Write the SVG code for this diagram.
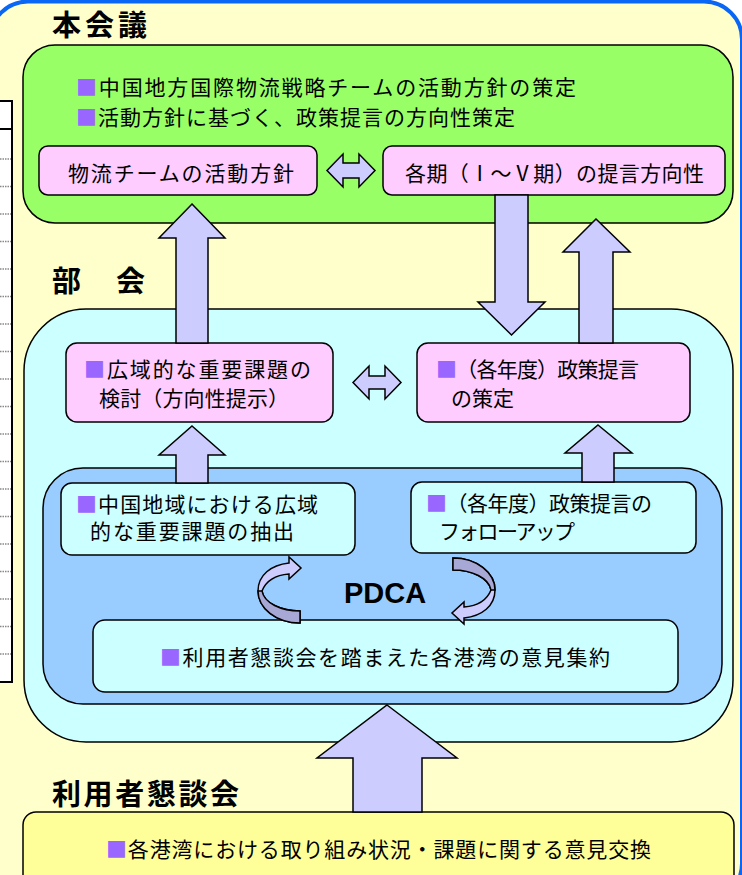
<svg xmlns="http://www.w3.org/2000/svg" width="742" height="875" viewBox="0 0 742 875">
<style>
.bx{stroke:#000;stroke-width:1.5}
.pink{fill:#FFCCFF}
.wb{fill:#CCFFFF}
.arrow{fill:#CCCCFF;stroke:#000;stroke-width:1.5}
.t{font-family:"Noto Sans CJK JP","Noto Sans CJK SC",sans-serif;font-size:21px;fill:#000}
.h{font-family:"Noto Sans CJK JP","Noto Sans CJK SC",sans-serif;font-size:29px;font-weight:bold;fill:#000}
.sq{fill:#9966FF}
.dot{stroke:#888;stroke-width:1.5;stroke-dasharray:1.5 1}
</style>
<rect x="0" y="0" width="742" height="875" fill="#FFFFFF"/>
<rect x="-10" y="1.5" width="752" height="900" rx="38" fill="#FFFFCC" stroke="#0A66F5" stroke-width="4"/>

<g id="side-table">
<rect x="-4" y="101" width="16" height="581" fill="#FFFFFF" stroke="#000" stroke-width="2"/>
<line x1="-4" y1="129" x2="12" y2="129" stroke="#000" stroke-width="2"/>
<g class="dot">
<line x1="0" y1="159" x2="11" y2="159"/><line x1="0" y1="186.5" x2="11" y2="186.5"/><line x1="0" y1="214" x2="11" y2="214"/><line x1="0" y1="241.5" x2="11" y2="241.5"/><line x1="0" y1="269" x2="11" y2="269"/><line x1="0" y1="296.5" x2="11" y2="296.5"/><line x1="0" y1="324" x2="11" y2="324"/><line x1="0" y1="351.5" x2="11" y2="351.5"/><line x1="0" y1="379" x2="11" y2="379"/><line x1="0" y1="406.5" x2="11" y2="406.5"/><line x1="0" y1="434" x2="11" y2="434"/><line x1="0" y1="461.5" x2="11" y2="461.5"/><line x1="0" y1="489" x2="11" y2="489"/><line x1="0" y1="516.5" x2="11" y2="516.5"/><line x1="0" y1="544" x2="11" y2="544"/><line x1="0" y1="571.5" x2="11" y2="571.5"/><line x1="0" y1="599" x2="11" y2="599"/><line x1="0" y1="626.5" x2="11" y2="626.5"/><line x1="0" y1="654" x2="11" y2="654"/>
</g>
</g>

<g id="honkaigi">
<text class="h" x="52" y="36" textLength="95" lengthAdjust="spacing">本会議</text>
<rect class="bx" x="23" y="45" width="710" height="178" rx="32" fill="#99FF66"/>
<text class="t" x="76" y="95" textLength="500" lengthAdjust="spacing"><tspan class="sq">■</tspan>中国地方国際物流戦略チームの活動方針の策定</text>
<text class="t" x="76" y="125" textLength="439" lengthAdjust="spacing"><tspan class="sq">■</tspan>活動方針に基づく、政策提言の方向性策定</text>
</g>
<g id="node-katsudo">
<rect class="bx pink" x="39" y="146" width="278" height="49" rx="9"/>
<text class="t" x="68" y="181" textLength="226" lengthAdjust="spacing">物流チームの活動方針</text>
</g>
<g id="node-teigen-hokosei">
<rect class="bx pink" x="383" y="146" width="342" height="49" rx="9"/>
<text class="t" x="405" y="181" textLength="299" lengthAdjust="spacing">各期（Ⅰ～Ⅴ期）の提言方向性</text>
</g>

<g id="bukai">
<text class="h" x="52" y="292" textLength="93" lengthAdjust="spacing">部　会</text>
<rect class="bx" x="24" y="309" width="709" height="433" rx="62" fill="#CCFFFF"/>
</g>
<g id="node-kento">
<rect class="bx pink" x="66" y="343" width="267" height="79" rx="11"/>
<text class="t" x="84" y="377" textLength="227" lengthAdjust="spacing"><tspan class="sq">■</tspan>広域的な重要課題の</text>
<text class="t" x="99" y="406" textLength="190" lengthAdjust="spacing">検討（方向性提示）</text>
</g>
<g id="node-sakutei">
<rect class="bx pink" x="417" y="343" width="273" height="79" rx="11"/>
<text class="t" x="436" y="377" textLength="203" lengthAdjust="spacing"><tspan class="sq">■</tspan>（各年度）政策提言</text>
<text class="t" x="451" y="406">の策定</text>
</g>

<g id="pdca-area">
<rect class="bx" x="43" y="468" width="679" height="236" rx="40" fill="#99CCFF"/>
<text x="385" y="603" text-anchor="middle" font-family="Liberation Sans, Arial, sans-serif" font-weight="bold" font-size="29">PDCA</text>
</g>
<g id="node-chushutsu">
<rect class="bx wb" x="61" y="483" width="294" height="72" rx="11"/>
<text class="t" x="76" y="512" textLength="242" lengthAdjust="spacing"><tspan class="sq">■</tspan>中国地域における広域</text>
<text class="t" x="90" y="539" textLength="204" lengthAdjust="spacing">的な重要課題の抽出</text>
</g>
<g id="node-followup">
<rect class="bx wb" x="411" y="482" width="285" height="71" rx="11"/>
<text class="t" x="426" y="511" textLength="226" lengthAdjust="spacing"><tspan class="sq">■</tspan>（各年度）政策提言の</text>
<text class="t" x="439" y="539" textLength="136" lengthAdjust="spacing">フォローアップ</text>
</g>
<g id="node-iken">
<rect class="bx wb" x="93" y="620" width="585" height="72" rx="12"/>
<text class="t" x="160" y="665" textLength="450" lengthAdjust="spacing"><tspan class="sq">■</tspan>利用者懇談会を踏まえた各港湾の意見集約</text>
</g>

<g id="riyosha">
<text class="h" x="52" y="805" textLength="187" lengthAdjust="spacing">利用者懇談会</text>
<rect class="bx" x="23" y="812" width="711" height="90" rx="13" fill="#FFFF99"/>
<text class="t" x="106" y="857" textLength="545" lengthAdjust="spacing"><tspan class="sq">■</tspan>各港湾における取り組み状況・課題に関する意見交換</text>
</g>

<g id="connectors">
<polygon class="arrow" points="327,170.5 343,154 343,163 359,163 359,154 375,170.5 359,187 359,178 343,178 343,187"/>
<polygon class="arrow" points="353,382.5 369,366 369,376 385,376 385,366 401,382.5 385,399 385,389 369,389 369,399"/>
<polygon class="arrow" points="192,204 225,238 208,238 208,343 176,343 176,238 159,238"/>
<polygon class="arrow" points="596,219 630,252 613,252 613,343 579,343 579,252 563,252"/>
<polygon class="arrow" points="495,195 528,195 528,302 545,302 511.5,335 478,302 495,302"/>
<polygon class="arrow" points="192,426 225,455 208,455 208,483 176,483 176,455 159,455"/>
<polygon class="arrow" points="598,425 632,453 614,453 614,482 582,482 582,453 565,453"/>
<polygon class="arrow" points="387,705 457,758 422,758 422,812 353,812 353,758 317,758"/>
<g id="cycle-left">
<path class="arrow" d="M300,623 C276,623 258,608 258,591 C258,575 271,565 289,563 L289,557 L301,568 L289,579 L289,574 C276,575 266,581 262,591 C264,603 281,611 300,611 Z"/>
<path d="M300,611 L300,623 C276,623 258,608 258,591 L262,591 C264,603 281,611 300,611 Z" fill="#A8A8D6" stroke="#000" stroke-width="1.5"/>
</g>
<g id="cycle-right" transform="rotate(180 376.5 590.5)">
<path class="arrow" d="M300,623 C276,623 258,608 258,591 C258,575 271,565 289,563 L289,557 L301,568 L289,579 L289,574 C276,575 266,581 262,591 C264,603 281,611 300,611 Z"/>
<path d="M300,611 L300,623 C276,623 258,608 258,591 L262,591 C264,603 281,611 300,611 Z" fill="#A8A8D6" stroke="#000" stroke-width="1.5"/>
</g>
</g>
</svg>
